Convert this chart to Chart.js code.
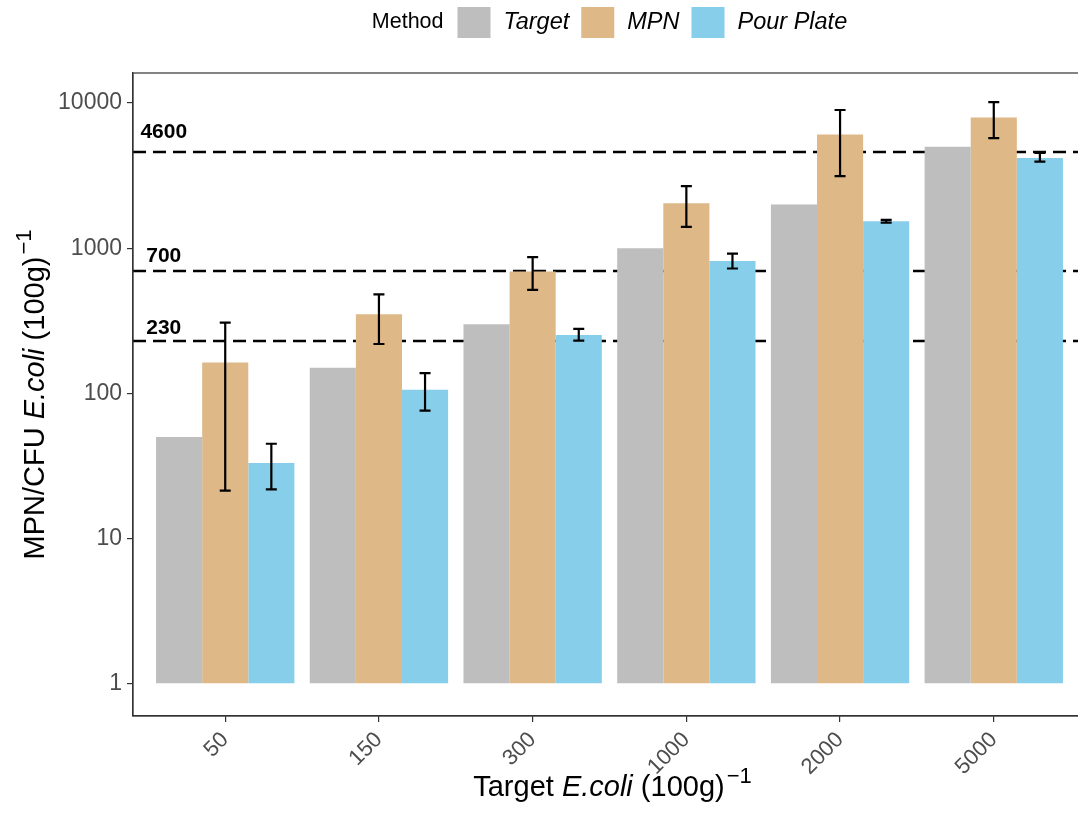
<!DOCTYPE html>
<html>
<head>
<meta charset="utf-8">
<style>
  html, body { margin: 0; padding: 0; overflow: hidden; background: #fff; }
  #wrap { width: 1100px; height: 825px; }
</style>
<script src="https://cdn.jsdelivr.net/npm/chart.js@4.4.1/dist/chart.umd.min.js"></script>
</head>
<body>
<div id="wrap"><canvas id="myChart" width="1100" height="825"></canvas></div>
<script>
var categories = ['50', '150', '300', '1000', '2000', '5000'];
var methods = ['Target', 'MPN', 'Pour Plate'];
var targetValues = [50, 150, 300, 1000, 2000, 5000];
var mpnValues = [163, 351, 691, 2037, 6080, 7940];
var mpnLow = [21.4, 219, 517, 1403, 3135, 5730];
var mpnHigh = [307, 481, 869, 2680, 8950, 10160];
var pourValues = [33.2, 106, 253, 817, 1534, 4188];
var pourLow = [21.8, 76.2, 231, 725, 1503, 3950];
var pourHigh = [45, 138, 278, 918, 1567, 4530];
var limitValues = [4600, 700, 230];
var yTicks = [1, 10, 100, 1000, 10000];
var barColors = ['#BEBEBE', '#DEB887', '#87CEEB'];

var FONT = "'Liberation Sans', Arial, sans-serif";
Chart.defaults.font.family = FONT;

function toPoints(values) {
    return values.map(function (v, i) { return { x: i + 1, y: v }; });
}

// dashed reference lines + their labels (under the bars)
var limitLines = {
    id: 'limitLines',
    beforeDatasetsDraw: function (chart) {
        var ctx = chart.ctx, area = chart.chartArea;
        var y = chart.scales.y, x = chart.scales.x;
        var offsets = [20, 15, 12.5];
        ctx.save();
        ctx.strokeStyle = '#000';
        ctx.lineWidth = 2.4;
        ctx.setLineDash([13, 7]);
        limitValues.forEach(function (v, i) {
            var py = Math.round(y.getPixelForValue(v));
            ctx.beginPath();
            ctx.moveTo(area.left, py);
            ctx.lineTo(area.right, py);
            ctx.stroke();
            ctx.fillStyle = '#000';
            ctx.font = 'bold 21px ' + FONT;
            ctx.textAlign = 'center';
            ctx.textBaseline = 'middle';
            ctx.fillText(String(v), x.getPixelForValue(0.6), py - offsets[i]);
        });
        ctx.restore();
    }
};

// error bars for MPN and Pour Plate
var errorBars = {
    id: 'errorBars',
    afterDatasetsDraw: function (chart) {
        var ctx = chart.ctx, y = chart.scales.y;
        ctx.save();
        ctx.strokeStyle = '#000';
        ctx.lineWidth = 2.2;
        chart.data.datasets.forEach(function (ds, di) {
            if (!ds.errLow) return;
            var meta = chart.getDatasetMeta(di);
            meta.data.forEach(function (bar, j) {
                var top = y.getPixelForValue(ds.errHigh[j]);
                var bot = y.getPixelForValue(ds.errLow[j]);
                var cx = bar.x, w = 5.5;
                ctx.beginPath();
                ctx.moveTo(cx, top); ctx.lineTo(cx, bot);
                ctx.moveTo(cx - w, top); ctx.lineTo(cx + w, top);
                ctx.moveTo(cx - w, bot); ctx.lineTo(cx + w, bot);
                ctx.stroke();
            });
        });
        ctx.restore();
    }
};

function drawParts(ctx, parts, size) {
    // pieces of a title, drawn from the origin along the baseline
    var pos = 0;
    parts.forEach(function (p) {
        if (p.sup) {
            ctx.font = Math.round(size * 0.75) + 'px ' + FONT;
            ctx.fillText(p.t, pos + 2, -size * 0.45);
            pos += ctx.measureText(p.t).width + 2;
        } else {
            ctx.font = (p.it ? 'italic ' : '') + size + 'px ' + FONT;
            ctx.fillText(p.t, pos, 0);
            pos += ctx.measureText(p.t).width;
        }
    });
}
function partsWidth(ctx, parts, size) {
    var w = 0;
    parts.forEach(function (p) {
        if (p.sup) {
            ctx.font = Math.round(size * 0.75) + 'px ' + FONT;
            w += ctx.measureText(p.t).width + 2;
        } else {
            ctx.font = (p.it ? 'italic ' : '') + size + 'px ' + FONT;
            w += ctx.measureText(p.t).width;
        }
    });
    return w;
}

// frame, axis titles, legend
var decorations = {
    id: 'decorations',
    afterDraw: function (chart) {
        var ctx = chart.ctx, a = chart.chartArea;
        var cx = (a.left + a.right) / 2, cy = (a.top + a.bottom) / 2;
        ctx.save();
        ctx.strokeStyle = '#333';
        ctx.lineWidth = 1.2;
        ctx.strokeRect(a.left, a.top, a.right - a.left, a.bottom - a.top);

        ctx.fillStyle = '#000';
        ctx.textAlign = 'left';
        ctx.textBaseline = 'alphabetic';
        var xt = [{ t: 'Target ' }, { t: 'E.coli', it: true }, { t: ' (100g)' }, { t: '\u22121', sup: true }];
        var yt = [{ t: 'MPN/CFU ' }, { t: 'E.coli', it: true }, { t: ' (100g)' }, { t: '\u22121', sup: true }];
        var w = partsWidth(ctx, xt, 29);
        ctx.save();
        ctx.translate(cx - w / 2 + 3, 796);
        drawParts(ctx, xt, 29);
        ctx.restore();
        w = partsWidth(ctx, yt, 29);
        ctx.save();
        ctx.translate(44, cy + w / 2);
        ctx.rotate(-Math.PI / 2);
        drawParts(ctx, yt, 29);
        ctx.restore();

        // legend: "Method" title then boxes + italic labels
        var titleFont = '21.5px ' + FONT, labFont = 'italic 23.5px ' + FONT;
        ctx.font = titleFont;
        var tw = ctx.measureText('Method').width;
        ctx.font = labFont;
        var total = tw + 14;
        methods.forEach(function (m, i) {
            total += 33 + 13 + ctx.measureText(m).width + (i < methods.length - 1 ? 12 : 0);
        });
        var px = cx - total / 2, midY = 22.5;
        ctx.textBaseline = 'middle';
        ctx.font = titleFont;
        ctx.fillText('Method', px, midY);
        px += tw + 14;
        methods.forEach(function (m, i) {
            ctx.fillStyle = chart.data.datasets[i].backgroundColor;
            ctx.fillRect(px, 7, 33, 31);
            px += 33 + 13;
            ctx.fillStyle = '#000';
            ctx.font = labFont;
            ctx.fillText(m, px, midY);
            px += ctx.measureText(m).width + 12;
        });
        ctx.restore();
    }
};

var config = {
    type: 'bar',
    data: {
        datasets: [
            { label: methods[0], data: toPoints(targetValues), backgroundColor: barColors[0] },
            { label: methods[1], data: toPoints(mpnValues), backgroundColor: barColors[1], errLow: mpnLow, errHigh: mpnHigh },
            { label: methods[2], data: toPoints(pourValues), backgroundColor: barColors[2], errLow: pourLow, errHigh: pourHigh }
        ]
    },
    options: {
        responsive: false,
        animation: false,
        events: [],
        base: 1,
        categoryPercentage: 0.9,
        barPercentage: 1.0,
        layout: { padding: { top: 73, right: 14, left: 0, bottom: 0 } },
        plugins: { legend: { display: false }, tooltip: { enabled: false } },
        scales: {
            x: {
                type: 'linear',
                min: 0.4,
                max: 6.6,
                offset: false,
                afterBuildTicks: function (s) {
                    s.ticks = categories.map(function (c, i) { return { value: i + 1 }; });
                },
                afterFit: function (s) { s.height = 109; s.paddingLeft = 0; s.paddingRight = 0; },
                ticks: {
                    minRotation: 45, maxRotation: 45,
                    color: '#4d4d4d',
                    font: { size: 22 },
                    padding: 5,
                    callback: function (v) { return categories[v - 1]; }
                },
                grid: { offset: false, drawOnChartArea: false, drawTicks: true, tickLength: 6, color: '#333', lineWidth: 1.2 },
                border: { display: true, color: '#333', width: 1.2 }
            },
            y: {
                type: 'logarithmic',
                min: 0.63,
                max: 16100,
                afterBuildTicks: function (s) {
                    s.ticks = yTicks.map(function (v) { return { value: v }; });
                },
                afterFit: function (s) { s.width = 133; },
                ticks: {
                    color: '#4d4d4d',
                    font: { size: 23 },
                    padding: 5,
                    callback: function (v) { return String(v); }
                },
                grid: { drawOnChartArea: false, drawTicks: true, tickLength: 6, color: '#333', lineWidth: 1.2 },
                border: { display: true, color: '#333', width: 1.2 }
            }
        }
    },
    plugins: [limitLines, errorBars, decorations]
};

window.addEventListener('load', function () {
    var ctx = document.getElementById('myChart').getContext('2d');
    myChart = new Chart(ctx, config);
}, false);
</script>
</body>
</html>
